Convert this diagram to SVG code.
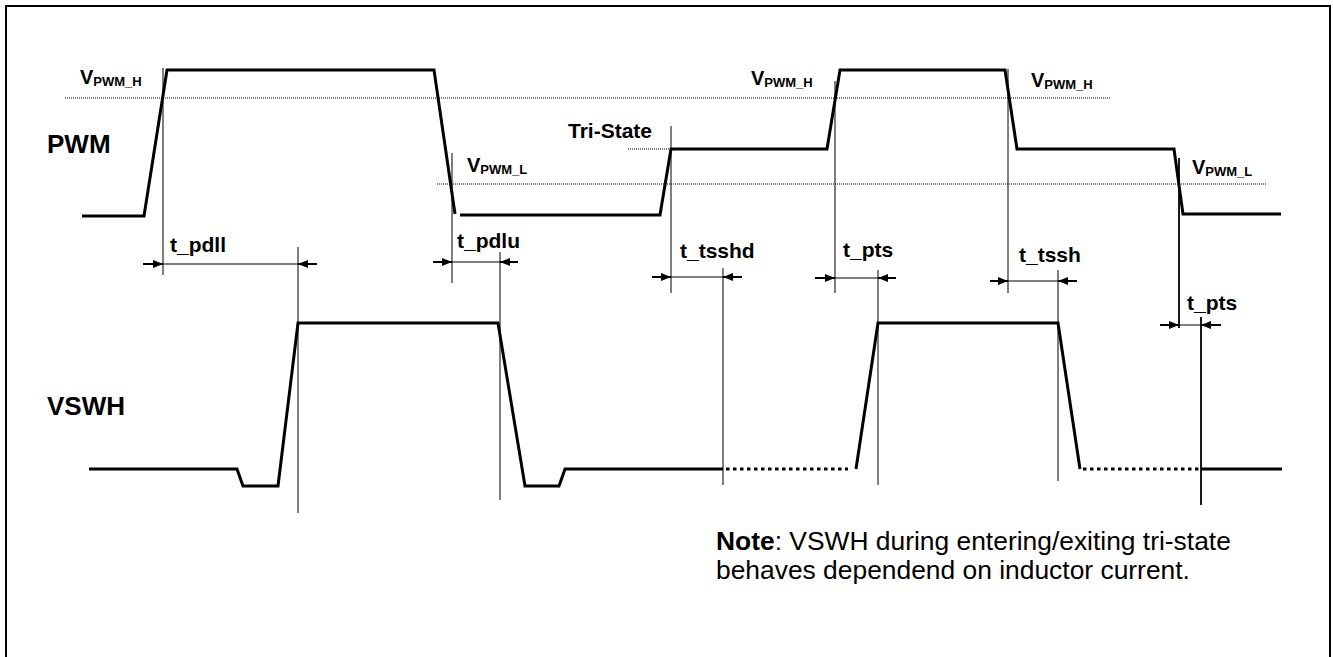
<svg xmlns="http://www.w3.org/2000/svg" width="1333" height="657" viewBox="0 0 1333 657">
<defs>
<marker id="arr" markerUnits="userSpaceOnUse" markerWidth="12" markerHeight="10" refX="10" refY="4.5" orient="auto">
<path d="M0,0.5 L10,4.5 L0,8.5 z" fill="#000"/>
</marker>
<style>
text{font-family:"Liberation Sans",Arial,sans-serif;fill:#000}
.b{font-weight:bold}
.lbl{font-size:21px;font-weight:bold}
.big{font-size:26px;font-weight:bold}
.v{font-size:20px;font-weight:bold}
.sub{font-size:13px;font-weight:bold}
.note{font-size:26.4px}
.wave{fill:none;stroke:#000;stroke-width:3;stroke-linejoin:miter}
.wdot{fill:none;stroke:#000;stroke-width:3;stroke-dasharray:3.5,3.5}
.thin{stroke:#000;stroke-width:1;fill:none}
.med{stroke:#000;stroke-width:1.8;fill:none}
.ref{stroke:#000;stroke-width:1;stroke-dasharray:1,1;fill:none}
.dim{stroke:#000;stroke-width:1;fill:none}
.ar{stroke:#000;stroke-width:2;fill:none;marker-end:url(#arr)}
</style>
</defs>
<rect width="1333" height="657" fill="#fff"/>
<rect x="6" y="6" width="1324" height="700" fill="none" stroke="#000" stroke-width="2"/>

<g id="labels">
<text class="big" x="47" y="153">PWM</text>
<text class="big" x="47" y="415">VSWH</text>
</g>

<g id="ref-levels">
<line class="ref" x1="65" y1="98" x2="1111" y2="98"/>
<line class="ref" x1="437" y1="184" x2="1267" y2="184"/>
<line class="ref" x1="628" y1="149" x2="670" y2="149"/>
</g>

<g id="level-labels">
<text x="80" y="84"><tspan class="v">V</tspan><tspan class="sub" dy="2">PWM_H</tspan></text>
<text x="751" y="85"><tspan class="v">V</tspan><tspan class="sub" dy="2">PWM_H</tspan></text>
<text x="1031" y="87"><tspan class="v">V</tspan><tspan class="sub" dy="2">PWM_H</tspan></text>
<text x="467" y="172"><tspan class="v">V</tspan><tspan class="sub" dy="2">PWM_L</tspan></text>
<text x="1192" y="174"><tspan class="v">V</tspan><tspan class="sub" dy="2">PWM_L</tspan></text>
<text class="lbl" x="568" y="138">Tri-State</text>
</g>

<g id="pwm-wave">
<polyline class="wave" points="82,216 144,216 167,70 434,70 455,214"/>
<polyline class="wave" points="460,215 660,215 671,149 827,149 840,70 1005,70 1017,149 1174,149 1183,214 1281,214"/>
</g>

<g id="vswh-wave">
<polyline class="wave" points="89,469 237,469 243,486 278,486 298,323 498,323 525,486 559,486 565,469 723,469"/>
<line class="wdot" x1="726" y1="469" x2="848" y2="469"/>
<polyline class="wave" points="856,469 878,323 1058,323 1080,469"/>
<line class="wdot" x1="1083" y1="469" x2="1201" y2="469"/>
<line class="wave" x1="1201" y1="469" x2="1282" y2="469"/>
</g>

<g id="connectors">
<line class="thin" x1="163" y1="68" x2="163" y2="275"/>
<line class="thin" x1="452" y1="153" x2="452" y2="283"/>
<line class="thin" x1="298" y1="247" x2="298" y2="513"/>
<line class="thin" x1="500" y1="252" x2="500" y2="500"/>
<line class="thin" x1="671" y1="126" x2="671" y2="293"/>
<line class="thin" x1="723" y1="268" x2="723" y2="485"/>
<line class="thin" x1="835" y1="81" x2="835" y2="293"/>
<line class="thin" x1="878" y1="270" x2="878" y2="485"/>
<line class="thin" x1="1008" y1="69" x2="1008" y2="293"/>
<line class="thin" x1="1058" y1="270" x2="1058" y2="481"/>
<line class="med" x1="1179" y1="158" x2="1179" y2="328"/>
<line class="med" x1="1201" y1="317" x2="1201" y2="505"/>

<line class="dim" x1="163" y1="264" x2="298" y2="264"/>
<line class="ar" x1="143" y1="264" x2="163" y2="264"/>
<line class="ar" x1="317" y1="264" x2="298" y2="264"/>

<line class="dim" x1="452" y1="262" x2="500" y2="262"/>
<line class="ar" x1="433" y1="262" x2="452" y2="262"/>
<line class="ar" x1="518" y1="262" x2="500" y2="262"/>

<line class="dim" x1="671" y1="277" x2="723" y2="277"/>
<line class="ar" x1="652" y1="277" x2="671" y2="277"/>
<line class="ar" x1="742" y1="277" x2="723" y2="277"/>

<line class="dim" x1="835" y1="278" x2="878" y2="278"/>
<line class="ar" x1="815" y1="278" x2="835" y2="278"/>
<line class="ar" x1="896" y1="278" x2="878" y2="278"/>

<line class="dim" x1="1008" y1="281" x2="1058" y2="281"/>
<line class="ar" x1="990" y1="281" x2="1008" y2="281"/>
<line class="ar" x1="1077" y1="281" x2="1058" y2="281"/>

<line class="dim" x1="1179" y1="325" x2="1201" y2="325"/>
<line class="ar" x1="1160" y1="325" x2="1179" y2="325"/>
<line class="ar" x1="1221" y1="325" x2="1201" y2="325"/>
</g>

<g id="timing-labels">
<text class="lbl" x="170" y="252">t_pdll</text>
<text class="lbl" x="457" y="248">t_pdlu</text>
<text class="lbl" x="680" y="258">t_tsshd</text>
<text class="lbl" x="843" y="257">t_pts</text>
<text class="lbl" x="1019" y="262">t_tssh</text>
<text class="lbl" x="1187" y="310">t_pts</text>
</g>

<g id="note">
<text class="note" x="716" y="550"><tspan class="b">Note</tspan>: VSWH during entering/exiting tri-state</text>
<text class="note" x="716" y="579">behaves dependend on inductor current.</text>
</g>
</svg>
